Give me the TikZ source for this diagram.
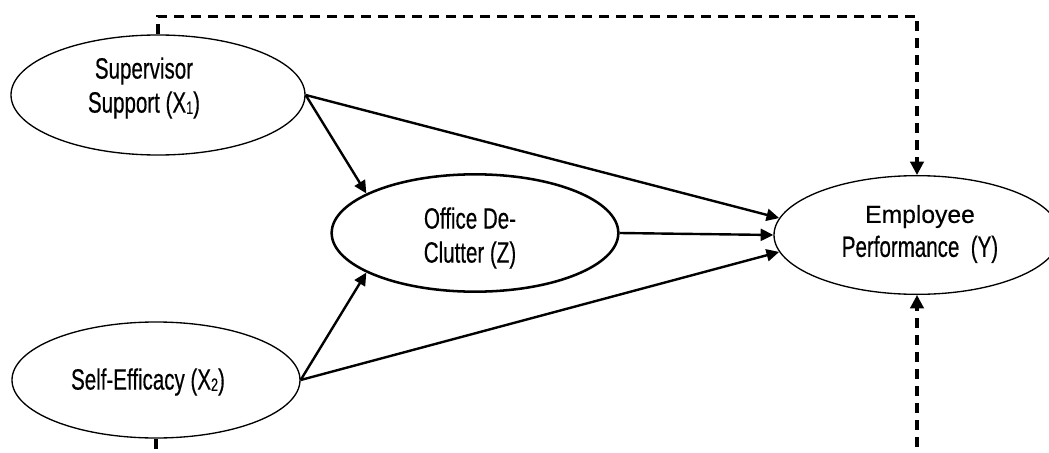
\documentclass[tikz,border=0pt]{standalone}
\usepackage{fontspec}
\setmainfont{Liberation Sans}
\newfontfamily\condfont[FakeStretch=0.70,FakeBold=0.4]{Liberation Sans}
\newfontfamily\empfont[FakeBold=0.3]{Liberation Sans}
\usetikzlibrary{shapes.geometric,arrows.meta}
\newcommand\mysub[1]{\raisebox{-1pt}{\fontsize{13.5}{13.5}\selectfont #1}}
\tikzset{
  latent/.style={ellipse, draw, line width=1pt, inner sep=0pt},
  latentbold/.style={latent, line width=1.9pt},
  lbl/.style={align=center, inner sep=0pt, font=\condfont\fontsize{22}{25.5}\selectfont},
  path/.style={line width=1.8pt, -{Triangle[length=9.5pt,width=9pt]}},
  dashpath/.style={line width=2.3pt, dash pattern=on 7.5pt off 5.25pt, -{Triangle[length=10pt,width=10pt]}},
}
\begin{document}
\begin{tikzpicture}[x=0.75pt,y=-0.75pt]
\useasboundingbox (0,0) rectangle (1049,453);
\clip (0,0) rectangle (1049,453);
\fill[white] (0,0) rectangle (1049,453);
% ellipses
\node[latent, minimum width=220.5pt, minimum height=90pt] (X1) at (158,95) {};
\node[latent, minimum width=216pt, minimum height=87pt] (X2) at (156,380) {};
\node[latentbold, minimum width=215pt, minimum height=88pt] (Z) at (475,233) {};
\node[latent, minimum width=214.5pt, minimum height=89pt] (Y) at (917,235) {};
% labels
\node[lbl] (X1t) at (144,88) {Supervisor\\Support (X\mysub{1})};
\node[lbl] (X2t) at (148,382) {Self-Efficacy (X\mysub{2})};
\node[lbl] (Zt) at (470,238) {Office De-\\Clutter (Z)};
\node[lbl] (Yt) at (920,234) {{\empfont\fontsize{18.5}{25.5}\selectfont Employee}\\Performance\ \ (Y)};
% solid paths
\draw[path] (X1.east) -- (Z.160);
\draw[path] (X2.east) -- (Z.200);
\draw[path] (X1.east) -- (Y.173);
\draw[path] (Z.east) -- (Y.west);
\draw[path] (X2.east) -- (Y.187);
% dashed paths
\draw[dashpath] (X1.north) -- ++(0,-18) -| (Y.north);
\draw[dashpath] (X2.south) -- ++(0,40) -| (Y.south);
\end{tikzpicture}
\end{document}
